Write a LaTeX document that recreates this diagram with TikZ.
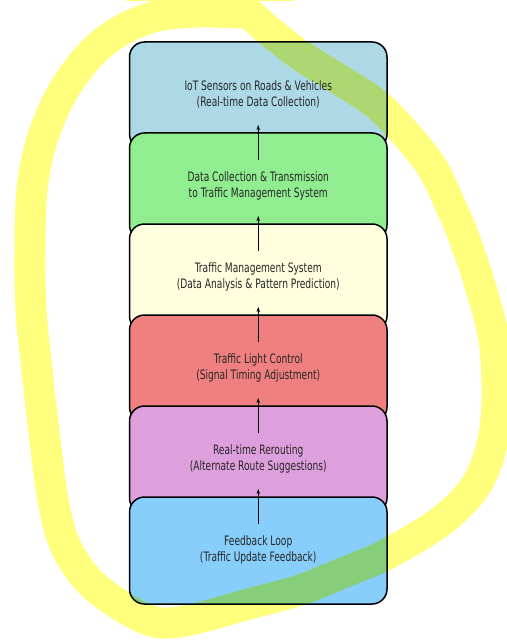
\documentclass[tikz,border=0pt]{standalone}
\usepackage{fontspec}
\setmainfont{DejaVu Sans}
\usetikzlibrary{arrows.meta}
\definecolor{iotblue}{RGB}{173,216,230}
\definecolor{sendgreen}{RGB}{144,238,144}
\definecolor{tmsyellow}{RGB}{255,255,224}
\definecolor{lightred}{RGB}{240,128,128}
\definecolor{plumpink}{RGB}{221,160,221}
\definecolor{skyblue}{RGB}{135,206,250}
% marker colour, alone and over each fill
\definecolor{marker}{RGB}{255,255,125}
\definecolor{iotmark}{RGB}{173,216,113}
\definecolor{sendmark}{RGB}{144,238,71}
\definecolor{tmsmark}{RGB}{255,255,110}
\definecolor{lightmark}{RGB}{240,128,63}
\definecolor{reroutemark}{RGB}{221,160,108}
\definecolor{feedbackmark}{RGB}{135,206,123}
\pgfdeclarelayer{paper}
\pgfdeclarelayer{fills}
\pgfdeclarelayer{marks}
\pgfdeclarelayer{edges}
\pgfsetlayers{paper,fills,marks,edges,main}
\newcommand{\boxlabel}[2]{\scalebox{0.7}[1]{\begin{tabular}{@{}c@{}}#1\\#2\end{tabular}}}
\def\scribble{plot[smooth, tension=0.55] coordinates {(238,13) (200,12) (157,16) (120,31) (90,55)
  (62,93) (42,140) (32,190) (30,250) (31,310) (37,370) (45,440) (53,500) (65,545) (88,580)
  (120,605) (155,622) (190,620) (245,605) (300,590) (345,572) (387,554) (440,522) (475,487)
  (492,445) (497,400) (494,340) (480,285) (463,235) (448,200) (432,167) (405,133) (375,103)
  (340,80) (300,55) (268,30) (250,14)}}
\tikzset{
  stage/.style={minimum width=257.5pt, minimum height=107pt, inner sep=0pt, outer sep=0pt,
    text=black!85, font=\fontsize{13}{16}\selectfont},
  edge/.style={draw=black, line width=1.5pt, rounded corners=15pt},
  flow/.style={-{Stealth[length=5pt,width=3.5pt]}, line width=1pt},
  highlight/.style={line width=31pt, line cap=round, line join=round}
}
\begin{document}
\begin{tikzpicture}[x=1pt,y=-1pt]
\useasboundingbox (0,0) rectangle (506,644);
% stages, top to bottom
\node[stage] (iot) at (258.25,95.5) {\boxlabel{IoT Sensors on Roads \& Vehicles}{(Real-time Data Collection)}};
\node[stage] (send) at (258.25,186.5) {\boxlabel{Data Collection \& Transmission}{to Traffic Management System}};
\node[stage] (tms) at (258.25,277.5) {\boxlabel{Traffic Management System}{(Data Analysis \& Pattern Prediction)}};
\node[stage] (light) at (258.25,368.5) {\boxlabel{Traffic Light Control}{(Signal Timing Adjustment)}};
\node[stage] (reroute) at (258.25,459.5) {\boxlabel{Real-time Rerouting}{(Alternate Route Suggestions)}};
\node[stage] (feedback) at (258.25,550.5) {\boxlabel{Feedback Loop}{(Traffic Update Feedback)}};
\foreach \a/\b in {iot/send, send/tms, tms/light, light/reroute, reroute/feedback}
  \draw[flow] ([yshift=-27pt]\b.north) -- ([yshift=24pt]\a.south);
% marker scribble on the page
\begin{pgfonlayer}{paper}
\fill[white] (0,0) rectangle (506,644);
\draw[highlight, draw=marker] \scribble;
\draw[highlight, draw=marker] (130,-14) -- (290,-14);
\end{pgfonlayer}
% box fills, each one over the one above it
\begin{pgfonlayer}{fills}
\foreach \n/\c in {iot/iotblue, send/sendgreen, tms/tmsyellow, light/lightred, reroute/plumpink, feedback/skyblue}
  \fill[\c, rounded corners=15pt] (\n.south west) rectangle (\n.north east);
\end{pgfonlayer}
% scribble seen through the fills
\begin{pgfonlayer}{marks}
\foreach \n in {iot, send, tms, light, reroute, feedback} {
  \begin{scope}
    \clip[rounded corners=15pt] (\n.south west) rectangle (\n.north east);
    \draw[highlight, draw=\n mark] \scribble;
  \end{scope}}
\end{pgfonlayer}
% outlines, hidden where the next box lies
\begin{pgfonlayer}{edges}
\foreach \a/\b in {iot/send, send/tms, tms/light, light/reroute, reroute/feedback} {
  \begin{scope}[even odd rule]
    \clip (-20,-20) rectangle (530,670) [rounded corners=15pt] (\b.south west) rectangle (\b.north east);
    \draw[edge] (\a.south west) rectangle (\a.north east);
  \end{scope}}
\draw[edge] (feedback.south west) rectangle (feedback.north east);
\end{pgfonlayer}
\end{tikzpicture}
\end{document}
